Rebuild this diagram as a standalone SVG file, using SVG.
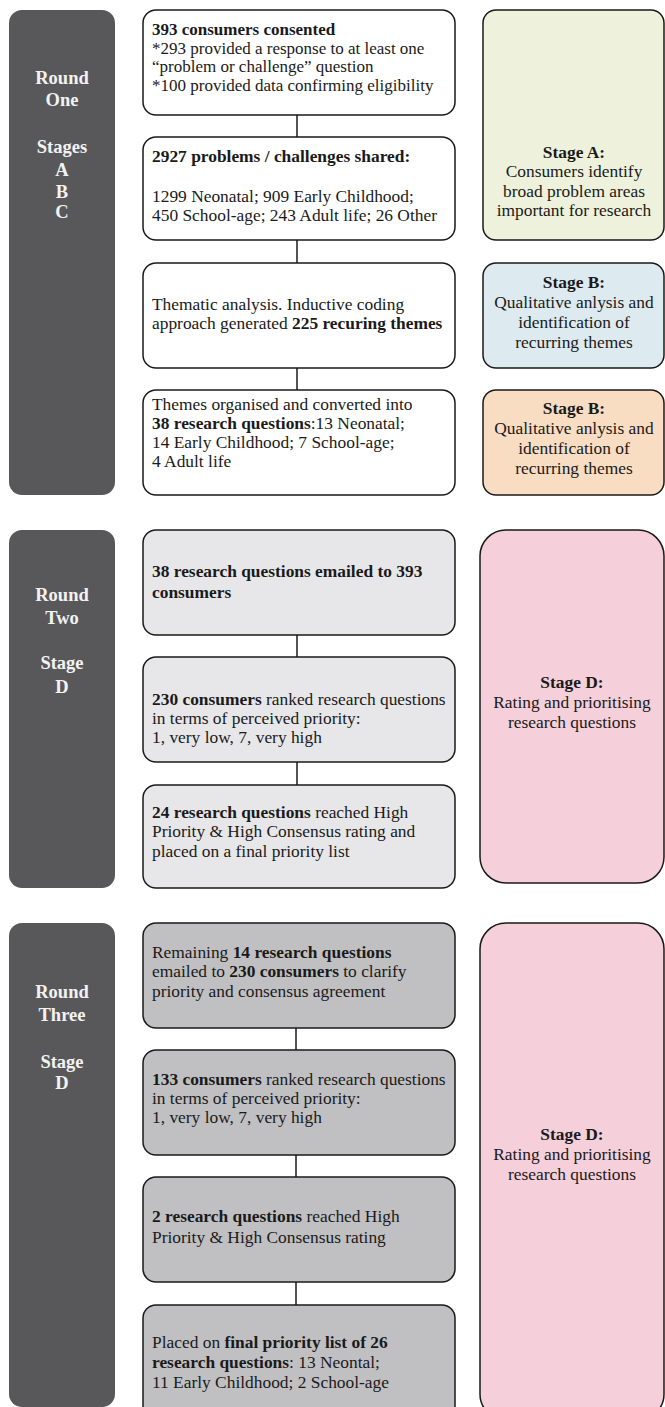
<svg xmlns="http://www.w3.org/2000/svg" width="665" height="1407" viewBox="0 0 665 1407">
<style>
.bg{fill:#ffffff}
.lab{fill:#58585a;stroke:none}
.labt{font-family:"Liberation Serif","Times New Roman",serif;font-size:18.5px;font-weight:bold;fill:#f2f2f2;text-anchor:middle}
.box{stroke:#1a1a1a;stroke-width:1.5}
.w{fill:#ffffff}
.g1{fill:#e7e7e9}
.g2{fill:#c0c0c2}
.ga{fill:#eef2dc}
.gb{fill:#ddeaf0}
.gc{fill:#f8ddc2}
.gd{fill:#f5cfd9}
.t{font-family:"Liberation Serif","Times New Roman",serif;font-size:17.4px;fill:#1a1a1a}
.s{font-size:17px}
.c{text-anchor:middle}
.b{font-weight:bold}
.conn{stroke:#1a1a1a;stroke-width:1.5;fill:none}
</style>
<rect class="bg" x="0" y="0" width="665" height="1407"/>

<g id="round-one">
<rect class="lab" x="9" y="10" width="106" height="485" rx="13"/>
<text class="labt"><tspan x="62" y="84">Round</tspan><tspan x="62" y="106">One</tspan><tspan x="62" y="153">Stages</tspan><tspan x="62" y="176">A</tspan><tspan x="62" y="198">B</tspan><tspan x="62" y="218">C</tspan></text>
</g>

<g id="round-two">
<rect class="lab" x="9" y="530" width="106" height="358" rx="13"/>
<text class="labt"><tspan x="62" y="601">Round</tspan><tspan x="62" y="624">Two</tspan><tspan x="62" y="669">Stage</tspan><tspan x="62" y="693">D</tspan></text>
</g>

<g id="round-three">
<rect class="lab" x="9" y="923" width="106" height="484" rx="13"/>
<text class="labt"><tspan x="62" y="998">Round</tspan><tspan x="62" y="1021">Three</tspan><tspan x="62" y="1068">Stage</tspan><tspan x="62" y="1089">D</tspan></text>
</g>

<g id="connectors">
<line class="conn" x1="297" y1="115" x2="297" y2="137"/>
<line class="conn" x1="297" y1="240" x2="297" y2="263"/>
<line class="conn" x1="297" y1="368" x2="297" y2="390"/>
<line class="conn" x1="297" y1="635" x2="297" y2="657"/>
<line class="conn" x1="297" y1="762" x2="297" y2="785"/>
<line class="conn" x1="296" y1="1028" x2="296" y2="1050"/>
<line class="conn" x1="296" y1="1155" x2="296" y2="1177"/>
<line class="conn" x1="296" y1="1282" x2="296" y2="1305"/>
</g>

<g id="n1">
<rect class="box w" x="143" y="10" width="312" height="105" rx="13"/>
<text class="t s"><tspan x="152" y="35" class="b">393 consumers consented</tspan><tspan x="152" y="53.5">*293 provided a response to at least one</tspan><tspan x="152" y="72">“problem or challenge” question</tspan><tspan x="152" y="90.5">*100 provided data confirming eligibility</tspan></text>
</g>
<g id="n2">
<rect class="box w" x="143" y="137" width="312" height="103" rx="13"/>
<text class="t"><tspan x="152" y="162" class="b">2927 problems / challenges shared:</tspan><tspan x="152" y="202">1299 Neonatal; 909 Early Childhood;</tspan><tspan x="152" y="221">450 School-age; 243 Adult life; 26 Other</tspan></text>
</g>
<g id="n3">
<rect class="box w" x="143" y="263" width="312" height="105" rx="13"/>
<text class="t"><tspan x="152" y="310">Thematic analysis. Inductive coding</tspan><tspan x="152" y="329">approach generated <tspan class="b">225 recuring themes</tspan></tspan></text>
</g>
<g id="n4">
<rect class="box w" x="143" y="390" width="312" height="105" rx="13"/>
<text class="t"><tspan x="152" y="410">Themes organised and converted into</tspan><tspan x="152" y="429"><tspan class="b">38 research questions</tspan>:13 Neonatal;</tspan><tspan x="152" y="448">14 Early Childhood; 7 School-age;</tspan><tspan x="152" y="467">4 Adult life</tspan></text>
</g>

<g id="stage-a">
<rect class="box ga" x="483" y="10" width="181" height="230" rx="13"/>
<text class="t c"><tspan x="574" y="158" class="b">Stage A:</tspan><tspan x="574" y="177">Consumers identify</tspan><tspan x="574" y="197">broad problem areas</tspan><tspan x="574" y="216">important for research</tspan></text>
</g>
<g id="stage-b1">
<rect class="box gb" x="483" y="263" width="181" height="105" rx="13"/>
<text class="t c"><tspan x="574" y="288" class="b">Stage B:</tspan><tspan x="574" y="308">Qualitative anlysis and</tspan><tspan x="574" y="328">identification of</tspan><tspan x="574" y="348">recurring themes</tspan></text>
</g>
<g id="stage-b2">
<rect class="box gc" x="483" y="390" width="181" height="105" rx="13"/>
<text class="t c"><tspan x="574" y="414" class="b">Stage B:</tspan><tspan x="574" y="434">Qualitative anlysis and</tspan><tspan x="574" y="454">identification of</tspan><tspan x="574" y="474">recurring themes</tspan></text>
</g>

<g id="n5">
<rect class="box g1" x="143" y="530" width="312" height="105" rx="13"/>
<text class="t b"><tspan x="152" y="577">38 research questions emailed to 393</tspan><tspan x="152" y="598">consumers</tspan></text>
</g>
<g id="n6">
<rect class="box g1" x="143" y="657" width="312" height="105" rx="13"/>
<text class="t"><tspan x="152" y="705"><tspan class="b">230 consumers</tspan> ranked research questions</tspan><tspan x="152" y="724">in terms of perceived priority:</tspan><tspan x="152" y="743">1, very low, 7, very high</tspan></text>
</g>
<g id="n7">
<rect class="box g1" x="143" y="785" width="312" height="103" rx="13"/>
<text class="t"><tspan x="152" y="818"><tspan class="b">24 research questions</tspan> reached High</tspan><tspan x="152" y="837">Priority &amp; High Consensus rating and</tspan><tspan x="152" y="857">placed on a final priority list</tspan></text>
</g>
<g id="stage-d1">
<rect class="box gd" x="480" y="530" width="184" height="353" rx="26"/>
<text class="t c"><tspan x="572" y="688" class="b">Stage D:</tspan><tspan x="572" y="708">Rating and prioritising</tspan><tspan x="572" y="728">research questions</tspan></text>
</g>

<g id="n8">
<rect class="box g2" x="143" y="923" width="312" height="105" rx="13"/>
<text class="t"><tspan x="152" y="958">Remaining <tspan class="b">14 research questions</tspan></tspan><tspan x="152" y="977">emailed to <tspan class="b">230 consumers</tspan> to clarify</tspan><tspan x="152" y="997">priority and consensus agreement</tspan></text>
</g>
<g id="n9">
<rect class="box g2" x="143" y="1050" width="312" height="105" rx="13"/>
<text class="t"><tspan x="152" y="1085"><tspan class="b">133 consumers</tspan> ranked research questions</tspan><tspan x="152" y="1104">in terms of perceived priority:</tspan><tspan x="152" y="1123">1, very low, 7, very high</tspan></text>
</g>
<g id="n10">
<rect class="box g2" x="143" y="1177" width="312" height="105" rx="13"/>
<text class="t"><tspan x="152" y="1222"><tspan class="b">2 research questions</tspan> reached High</tspan><tspan x="152" y="1243">Priority &amp; High Consensus rating</tspan></text>
</g>
<g id="n11">
<rect class="box g2" x="143" y="1305" width="312" height="115" rx="13"/>
<text class="t"><tspan x="152" y="1348">Placed on <tspan class="b">final priority list of 26</tspan></tspan><tspan x="152" y="1368"><tspan class="b">research questions</tspan>: 13 Neontal;</tspan><tspan x="152" y="1388">11 Early Childhood; 2 School-age</tspan></text>
</g>
<g id="stage-d2">
<rect class="box gd" x="480" y="923" width="184" height="497" rx="26"/>
<text class="t c"><tspan x="572" y="1140" class="b">Stage D:</tspan><tspan x="572" y="1160">Rating and prioritising</tspan><tspan x="572" y="1180">research questions</tspan></text>
</g>
</svg>
